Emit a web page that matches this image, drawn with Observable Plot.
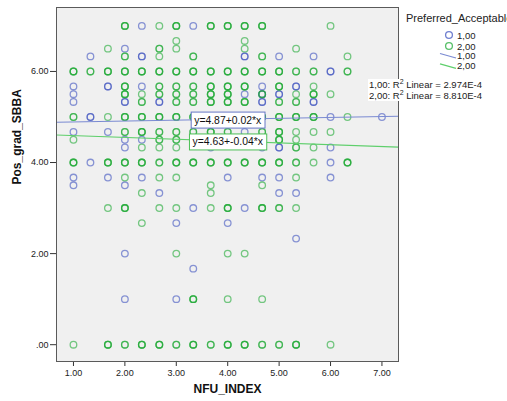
<!DOCTYPE html>
<html>
<head>
<meta charset="utf-8">
<script src="https://cdn.jsdelivr.net/npm/d3@7"></script>
<script src="https://cdn.jsdelivr.net/npm/@observablehq/plot@0.6"></script>
<style>
  body { margin: 0; background: #fff; }
  #wrap { position: relative; width: 507px; height: 401px; overflow: hidden; font-family: "Liberation Sans", Arial, sans-serif; }
  #wrap svg { display: block; }
  #legend { position: absolute; left: 0; top: 0; pointer-events: none; }
</style>
</head>
<body>
<div id="wrap"></div>
<script>
// ---- data ----
const xLabel = "NFU_INDEX";
const yLabel = "Pos_grad_SBBA";
const legendTitle = "Preferred_Acceptable";
const groups = ["1,00", "2,00"];
const r2Values = ["2.974E-4", "8.810E-4"];
const intercepts = [4.87, 4.63];
const slopes = [0.02, -0.04];
const labelX = 4;
const xTicks = [1, 2, 3, 4, 5, 6, 7];
const yTicks = [0, 2, 4, 6];
const xDomain = [0.67, 7.322];
const yDomain = [-0.369, 7.404];

// [NFU_INDEX, Pos_grad_SBBA, approx. count]
const group1Points = [
  [2.33,7,1],[3.33,7,1],
  [2,6.5,1],
  [1.33,6.33,1],[2.33,6.33,2],[4.33,6.33,2],[5,6.33,1],[5.67,6.33,1],
  [6,6,2],
  [1,5.67,1],[1.67,5.67,2],[2.33,5.67,1],[4.67,5.67,1],[5.33,5.67,2],
  [1,5.5,1],[4.33,5.5,1],[4.67,5.5,2],[5,5.5,2],
  [1,5.33,1],[2,5.33,2],[2.67,5.33,2],[4.67,5.33,2],[5.67,5.33,2],
  [1.33,5,2],[6,5,1],[7,5,1],
  [1,4.67,1],[1.67,4.67,1],[4.33,4.67,1],
  [2,4.5,1],[2.33,4.5,1],
  [2,4.33,1],[3.67,4.33,1],[4.67,4.33,1],[5,4.33,2],[6,4.33,1],
  [1.33,4,1],[6,4,1],
  [1,3.67,1],[1.67,3.67,1],[2.33,3.67,1],[4,3.67,1],[4.67,3.67,1],[5,3.67,1],[6,3.67,1],
  [1,3.5,1],[2,3.5,1],
  [2.67,3.33,1],[5,3.33,1],[5.33,3.33,1],
  [3.33,3,1],[4.33,3,1],
  [3,2.67,1],[4,2.67,1],
  [5.33,2.33,1],
  [2,2,1],
  [3.33,1.67,1],
  [2,1,1],[3,1,1]
];
const group2Points = [
  [2,7,3],[2.67,7,1],[3,7,3],[3.67,7,3],[4,7,3],[4.33,7,3],[4.67,7,3],[6,7,1],
  [3,6.67,1],[4.33,6.67,1],
  [1.67,6.5,1],[2.67,6.5,2],[3,6.5,1],[4.33,6.5,1],[5.33,6.5,1],
  [2,6.33,2],[2.67,6.33,1],[3.33,6.33,2],[4.67,6.33,2],[6.33,6.33,1],
  [1,6,3],[1.33,6,2],[1.67,6,3],[2,6,3],[2.33,6,3],[2.67,6,3],[3,6,3],[3.33,6,3],[3.67,6,3],[4,6,3],[4.33,6,3],[4.67,6,3],[5,6,3],[5.33,6,2],[5.67,6,2],[6.33,6,2],
  [2,5.67,3],[2.67,5.67,2],[3,5.67,2],[3.33,5.67,2],[3.67,5.67,3],[4,5.67,3],[4.33,5.67,3],[5,5.67,3],[5.67,5.67,1],
  [2,5.5,3],[2.33,5.5,1],[2.67,5.5,2],[3,5.5,2],[3.33,5.5,2],[3.67,5.5,3],[4,5.5,3],[4.67,5.5,2],[5.33,5.5,1],[5.67,5.5,3],[6,5.5,1],
  [2.33,5.33,2],[3,5.33,2],[3.33,5.33,2],[3.67,5.33,3],[4,5.33,3],[4.33,5.33,3],[5,5.33,2],[5.33,5.33,2],
  [1,5,2],[1.67,5,1],[2,5,3],[2.33,5,3],[2.67,5,3],[3,5,3],[3.33,5,3],[3.67,5,3],[4,5,3],[4.33,5,3],[4.67,5,3],[5,5,3],[5.33,5,3],[5.67,5,3],[6.33,5,1],
  [2,4.67,2],[2.33,4.67,3],[2.67,4.67,2],[3,4.67,2],[3.33,4.67,2],[3.67,4.67,3],[4,4.67,2],[4.67,4.67,2],[5,4.67,3],[5.33,4.67,1],[5.67,4.67,1],[6,4.67,1],
  [1,4.5,1],[2.67,4.5,2],[3,4.5,2],[5,4.5,3],[5.33,4.5,1],
  [2.33,4.33,1],[2.67,4.33,1],[3,4.33,1],[5.33,4.33,2],[5.67,4.33,1],
  [1,4,3],[1.67,4,3],[2,4,3],[2.33,4,3],[2.67,4,2],[3,4,3],[3.33,4,3],[3.67,4,3],[4,4,3],[4.33,4,3],[4.67,4,3],[5,4,3],[5.33,4,2],[5.67,4,1],[6.33,4,3],
  [2,3.67,1],[2.67,3.67,1],[3,3.67,1],[5.33,3.67,1],
  [3.67,3.5,1],[4.67,3.5,1],
  [2.33,3.33,1],[3.67,3.33,1],
  [1.67,3,1],[2,3,3],[2.67,3,1],[3,3,1],[3.67,3,1],[4,3,3],[4.67,3,3],[5,3,2],[5.33,3,1],
  [2.33,2.67,1],
  [3,2,1],[4,2,1],[4.33,2,1],
  [3.33,1,3],[4,1,1],[4.67,1,1],
  [1,0,1],[1.67,0,3],[2,0,2],[2.33,0,3],[2.67,0,3],[3,0,2],[3.33,0,3],[3.67,0,2],[4,0,3],[4.33,0,3],[4.67,0,2],[5,0,2],[5.33,0,3],[6,0,1]
];

// ---- styles ----
const dotColors = ["#3f54bf", "#1faa35"];
const lineColors = ["#7a8ad2", "#5fcf6c"];
const boxColors = ["#6677c6", "#4cbf55"];
const font = '"Liberation Sans", Arial, sans-serif';

const expand = pts => pts.flatMap(([x, y, n]) => d3.range(n).map(() => ({x, y})));
const fmt = d => d === 0 ? ".00" : d.toFixed(2);

const fitLines = groups.flatMap((g, i) => xDomain.map(x => ({g, x, y: intercepts[i] + slopes[i] * x})));
const fitLabels = groups.map((g, i) => ({
  g, x: labelX, y: intercepts[i] + slopes[i] * labelX,
  text: `y=${intercepts[i].toFixed(2)}+${slopes[i].toFixed(2)}*x`
}));

const chart = Plot.plot({
  width: 507,
  height: 401,
  marginLeft: 56,
  marginRight: 109,
  marginTop: 7,
  marginBottom: 40,
  x: {domain: xDomain},
  y: {domain: yDomain},
  style: {fontFamily: font, fontSize: "9px", color: "#222", background: "#fff"},
  marks: [
    Plot.frame({fill: "#f0f0f0"}),
    Plot.axisX({ticks: xTicks, tickFormat: fmt, tickSize: 5, tickPadding: 3, label: null, stroke: "#333"}),
    Plot.axisY({ticks: yTicks, tickFormat: fmt, tickSize: 6, tickPadding: 2, label: null, stroke: "#333"}),
    Plot.dot(expand(group1Points), {x: "x", y: "y", r: 3.3, stroke: dotColors[0], strokeOpacity: 0.6, strokeWidth: 1.3, fill: "none"}),
    Plot.dot(expand(group2Points), {x: "x", y: "y", r: 3.3, stroke: dotColors[1], strokeOpacity: 0.6, strokeWidth: 1.3, fill: "none"}),
    Plot.line(fitLines.filter(d => d.g === groups[0]), {x: "x", y: "y", stroke: lineColors[0], strokeWidth: 1.1}),
    Plot.line(fitLines.filter(d => d.g === groups[1]), {x: "x", y: "y", stroke: lineColors[1], strokeWidth: 1.1}),
    Plot.frame({stroke: "#5a5a5a"}),
    Plot.text(fitLabels, {x: "x", y: "y", text: "text", fontSize: 10.4, fill: "#111", dy: 1}),
    Plot.text([xLabel], {frameAnchor: "bottom", dy: 31, fontWeight: "bold", fontSize: 12, fill: "#111"}),
    Plot.text([yLabel], {frameAnchor: "left", dx: -39, rotate: -90, fontWeight: "bold", fontSize: 12, fill: "#111"})
  ]
});

const wrap = document.getElementById("wrap");
wrap.appendChild(chart);

// boxes behind regression labels
const labelTexts = fitLabels.map(d => d.text);
Array.from(chart.querySelectorAll("text")).forEach(t => {
  const i = labelTexts.indexOf(t.textContent);
  if (i < 0) return;
  const b = t.getBBox();
  const r = document.createElementNS("http://www.w3.org/2000/svg", "rect");
  r.setAttribute("x", b.x - 3);
  r.setAttribute("y", b.y - 2.5);
  r.setAttribute("width", b.width + 6);
  r.setAttribute("height", b.height + 5);
  r.setAttribute("fill", "#fff");
  r.setAttribute("stroke", boxColors[i]);
  r.setAttribute("stroke-width", 1);
  if (t.getAttribute("transform")) r.setAttribute("transform", t.getAttribute("transform"));
  t.parentNode.insertBefore(r, t);
});

// legend overlay
const svg = d3.select(wrap).append("svg")
  .attr("id", "legend").attr("width", 507).attr("height", 401)
  .style("font-family", font);

svg.append("text").attr("x", 406).attr("y", 19).attr("dominant-baseline", "middle")
  .attr("font-size", 11).attr("fill", "#222").text(legendTitle);

groups.forEach((g, i) => {
  const cy = 35 + i * 11;
  svg.append("circle").attr("cx", 449).attr("cy", cy).attr("r", 3.4)
    .attr("fill", "none").attr("stroke", dotColors[i]).attr("stroke-opacity", 0.75).attr("stroke-width", 1.3);
  svg.append("text").attr("x", 457).attr("y", cy + 1).attr("dominant-baseline", "middle")
    .attr("font-size", 9.5).attr("fill", "#222").text(g);
});
groups.forEach((g, i) => {
  const y0 = 53.5 + i * 10.3;
  svg.append("line").attr("x1", 440).attr("y1", y0).attr("x2", 456).attr("y2", y0 + 4.5)
    .attr("stroke", lineColors[i]).attr("stroke-width", 1.2);
  svg.append("text").attr("x", 457).attr("y", y0 + 3).attr("dominant-baseline", "middle")
    .attr("font-size", 9.5).attr("fill", "#222").text(g);
});

svg.append("rect").attr("x", 368).attr("y", 79).attr("width", 139).attr("height", 22).attr("fill", "#fff");
groups.forEach((g, i) => {
  const t = svg.append("text").attr("x", 369).attr("y", 85 + i * 10.5).attr("dominant-baseline", "middle")
    .attr("font-size", 9.5).attr("fill", "#222");
  t.append("tspan").text(`${g}: R`);
  t.append("tspan").attr("font-size", 7).attr("dy", -3).text("2");
  t.append("tspan").attr("dy", 3).text(` Linear = ${r2Values[i]}`);
});
</script>
</body>
</html>
